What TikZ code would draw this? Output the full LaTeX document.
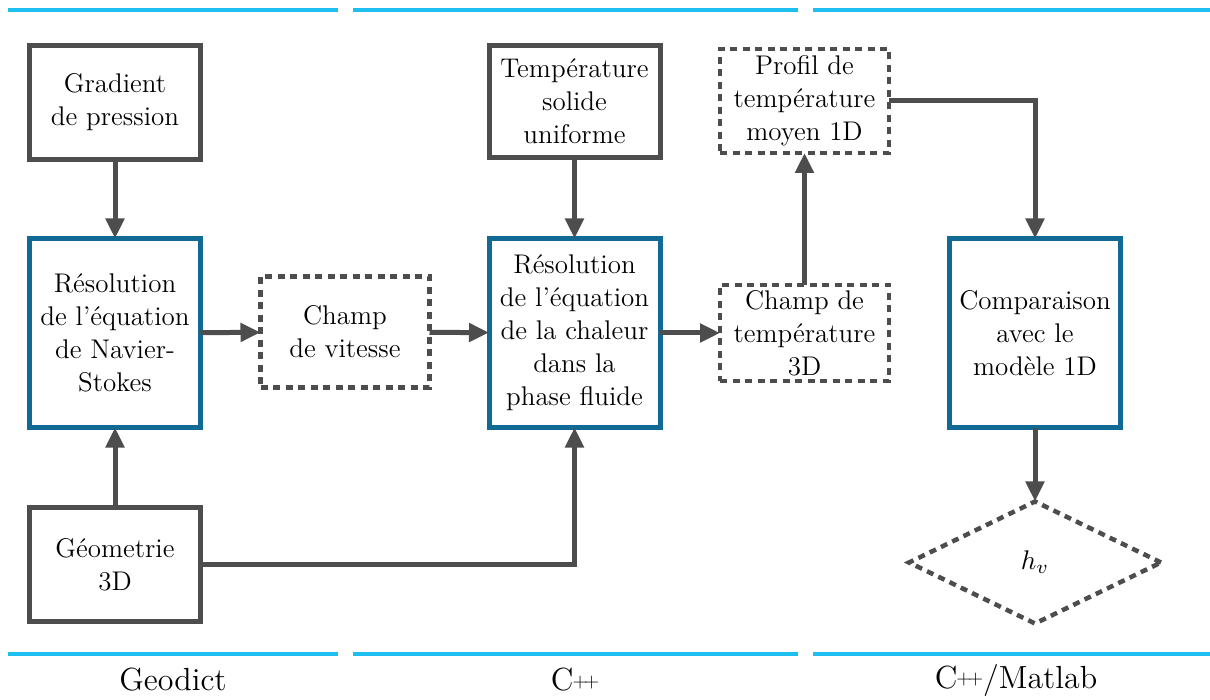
\documentclass[tikz,border=0pt]{standalone}
\usepackage{fontspec}
\setmainfont{lmroman12-regular}[Extension=.otf]
\usetikzlibrary{arrows.meta,shapes.geometric}
\definecolor{boxgray}{HTML}{4D4D4D}
\definecolor{boxblue}{HTML}{106A94}
\definecolor{barcyan}{HTML}{1EBFEF}
\newcommand{\cpp}{C\kern-0.03em\raisebox{0.12em}{\scalebox{0.62}{+\kern-0.18em+}}}
\begin{document}
\begin{tikzpicture}[x=1pt,y=-1pt,
  every node/.style={font=\fontsize{27}{33}\selectfont, align=center, inner sep=0pt, outer sep=0pt},
  graybox/.style={draw=boxgray, line width=5pt, rectangle, minimum width=171pt},
  bluebox/.style={draw=boxblue, line width=5pt, rectangle, minimum width=171pt, minimum height=189pt},
  dashbox/.style={draw=boxgray, line width=4.5pt, dash pattern=on 7pt off 5.5pt, rectangle, minimum width=169pt},
  conn/.style={draw=boxgray, line width=5pt, -{Triangle[length=20pt,width=18pt]}},
  bar/.style={draw=barcyan, line width=4.5pt},
  toolname/.style={font=\fontsize{32}{38}\selectfont}
]
\useasboundingbox (0,0) rectangle (1210,700);
% bars
\draw[bar] (8,10) -- (338,10);
\draw[bar] (353,10) -- (798,10);
\draw[bar] (813,10) -- (1210,10);
\draw[bar] (8,654) -- (338,654);
\draw[bar] (353,654) -- (798,654);
\draw[bar] (813,654) -- (1210,654);
\node[toolname] (lgeo) at (173,680) {Geodict};
\node[toolname] (lcpp) at (575,680) {\cpp};
\node[toolname] (lmat) at (1016,680) {\cpp/Matlab};
% nodes
\node[graybox, minimum height=114pt] (grad) at (115,102.5) {Gradient\\de pression};
\node[bluebox] (ns) at (115,333) {Résolution\\de l’équation\\de Navier-\\Stokes};
\node[graybox, minimum height=114pt] (geo) at (115,564.5) {Géometrie\\3D};
\node[dashbox, minimum height=111pt] (vit) at (345,332) {Champ\\de vitesse};
\node[graybox, minimum height=112pt] (tsol) at (574.5,101.5) {Température\\solide\\uniforme};
\node[bluebox] (chal) at (574.5,333) {Résolution\\de l’équation\\de la chaleur\\dans la\\phase fluide};
\node[dashbox, minimum height=96pt] (ct3) at (804.5,333) {Champ de\\température\\3D};
\node[dashbox, minimum height=104pt] (prof) at (804.5,101) {Profil de\\température\\moyen 1D};
\node[bluebox] (comp) at (1035,333) {Comparaison\\avec le\\modèle 1D};
\node[diamond, draw=boxgray, line width=4.5pt, dash pattern=on 7pt off 5.5pt, minimum width=252pt, minimum height=122pt] (hv) at (1035,562.5) {\fontsize{10}{12}\selectfont\scalebox{2.7}{$h_v$}};
% connectors
\draw[conn] (grad) -- (ns);
\draw[conn] (geo) -- (ns);
\draw[conn] (ns) -- (vit);
\draw[conn] (vit) -- (chal);
\draw[conn] (geo.east) -| (chal.south);
\draw[conn] (tsol) -- (chal);
\draw[conn] (chal) -- (ct3);
\draw[conn] (ct3) -- (prof);
\draw[conn] (prof.east) -| (comp.north);
\draw[conn] (comp) -- (hv);
\end{tikzpicture}
\end{document}
